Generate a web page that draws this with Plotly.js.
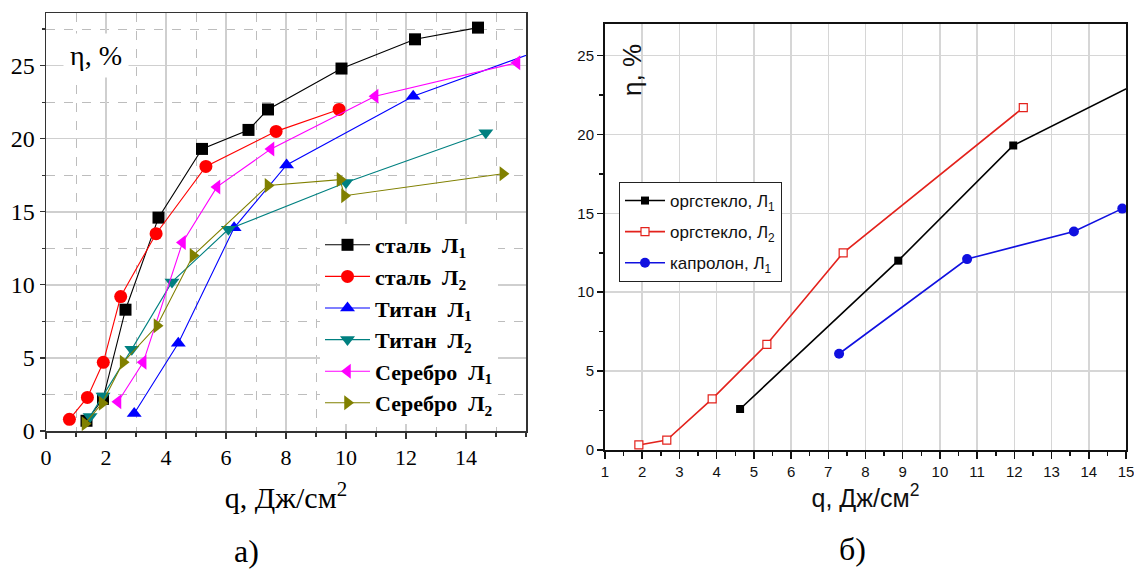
<!DOCTYPE html>
<html><head><meta charset="utf-8">
<script src="https://cdn.plot.ly/plotly-3.0.1.min.js"></script>
<style>html,body{margin:0;padding:0;background:#fff}#chart{width:1134px;height:575px}</style>
</head><body><div id="chart"></div>
<script>
// ---- Panel a) ----
const steelL1_x = [1.35, 1.9, 2.65, 3.75, 5.2, 6.75, 7.4, 9.85, 12.3, 14.4];
const steelL1_y = [0.7, 2.2, 8.3, 14.6, 19.3, 20.6, 22.0, 24.8, 26.8, 27.6];
const steelL2_x = [0.78, 1.38, 1.91, 2.49, 3.67, 5.33, 7.67, 9.77];
const steelL2_y = [0.8, 2.3, 4.7, 9.2, 13.5, 18.1, 20.5, 22.0];
const titanL1_x = [2.94, 4.41, 6.27, 8.02, 12.24, 16.4];
const titanL1_y = [1.2, 6.0, 13.9, 18.2, 22.9, 26.0];
const titanL2_x = [1.47, 1.9, 2.86, 4.2, 6.08, 10.0, 14.66];
const titanL2_y = [1.0, 2.4, 5.6, 10.2, 13.8, 17.0, 20.4];
const silverL1_x = [2.4, 3.24, 4.55, 5.7, 7.5, 10.97, 15.7];
const silverL1_y = [2.0, 4.7, 12.9, 16.7, 19.3, 22.9, 25.2];
const silverL2_x = [1.3, 1.87, 2.57, 3.7, 4.9, 7.4, 9.8, 9.95, 15.23];
const silverL2_y = [0.5, 1.9, 4.7, 7.2, 12.0, 16.8, 17.2, 16.1, 17.6];
const ticksA_x = [0, 2, 4, 6, 8, 10, 12, 14];

// ---- Panel б) ----
const plexL1_x = [4.63, 8.88, 11.97, 15.3];
const plexL1_y = [2.6, 12.0, 19.3, 23.25];
const plexL2_x = [1.91, 2.66, 3.88, 5.35, 7.4, 12.24];
const plexL2_y = [0.32, 0.63, 3.24, 6.7, 12.5, 21.7];
const capL1_x = [7.29, 10.73, 13.6, 14.9];
const capL1_y = [6.1, 12.1, 13.85, 15.3];

const namesA = ['сталь  Л<sub>1</sub>', 'сталь  Л<sub>2</sub>', 'Титан  Л<sub>1</sub>', 'Титан  Л<sub>2</sub>', 'Серебро  Л<sub>1</sub>', 'Серебро  Л<sub>2</sub>'];
const namesB = ['оргстекло, Л<sub>1</sub>', 'оргстекло, Л<sub>2</sub>', 'капролон, Л<sub>1</sub>'];

function trA(x, y, name, color, symbol, size, g) {
  return {x: x, y: y, name: name, type: 'scatter', mode: 'lines+markers', xaxis: 'x', yaxis: 'y',
    legend: 'legend', legendgroup: g,
    line: {color: color, width: 1.1}, marker: {color: color, symbol: symbol, size: size}};
}
function trB(x, y, name, color, symbol, size, g, open) {
  return {x: x, y: y, name: name, type: 'scatter', mode: 'lines+markers', xaxis: 'x2', yaxis: 'y2',
    legend: 'legend2', legendgroup: g,
    line: {color: color, width: 1.6},
    marker: open ? {color: 'rgba(255,255,255,1)', symbol: symbol, size: size, line: {color: color, width: 1.2}}
                 : {color: color, symbol: symbol, size: size}};
}

const data = [
  trA(steelL1_x, steelL1_y, namesA[0], '#000000', 'square', 12, 'a1'),
  trA(steelL2_x, steelL2_y, namesA[1], '#ff0000', 'circle', 13, 'a2'),
  trA(titanL1_x, titanL1_y, namesA[2], '#0000ff', 'triangle-up', 13, 'a3'),
  trA(titanL2_x, titanL2_y, namesA[3], '#008080', 'triangle-down', 13, 'a4'),
  trA(silverL1_x, silverL1_y, namesA[4], '#ff00ff', 'triangle-left', 13, 'a5'),
  trA(silverL2_x, silverL2_y, namesA[5], '#808000', 'triangle-right', 13, 'a6'),
  trB(plexL1_x, plexL1_y, namesB[0], '#000000', 'square', 8, 'b1', false),
  trB(plexL2_x, plexL2_y, namesB[1], '#e3221c', 'square', 8, 'b2', true),
  trB(capL1_x, capL1_y, namesB[2], '#1010e0', 'circle', 10, 'b3', false)
];

const serif = 'Liberation Serif, Times New Roman, serif';
const sans = 'Liberation Sans, Arial, sans-serif';

const layout = {
  width: 1134, height: 575, margin: {l: 0, r: 0, t: 0, b: 0},
  paper_bgcolor: '#fff', plot_bgcolor: '#fff', showlegend: true,
  xaxis: {domain: [46/1134, 526/1134], range: [0, 16], tickmode: 'array', tickvals: ticksA_x,
    showgrid: true, gridcolor: '#cfcfcf', gridwidth: 1.5, zeroline: false,
    showline: true, linecolor: '#333', linewidth: 1.5, mirror: true,
    ticks: 'outside', ticklen: 6, tickcolor: '#333', tickwidth: 1.2,
    minor: {dtick: 1, tick0: 0, showgrid: true, griddash: 'dash', gridcolor: '#bdbdbd', gridwidth: 1, ticks: 'outside', ticklen: 4, tickcolor: '#333'},
    tickfont: {family: serif, size: 22, color: '#000'},
    title: {text: 'q, Дж/см<sup>2</sup>', font: {family: serif, size: 30, color: '#000'}, standoff: 18},
    anchor: 'y'},
  yaxis: {domain: [1 - 431/575, 1 - 13/575], range: [0, 28.6], dtick: 5, tick0: 0,
    showgrid: true, gridcolor: '#cfcfcf', gridwidth: 1.5, zeroline: false,
    showline: true, linecolor: '#333', linewidth: 1.5, mirror: true,
    ticks: 'outside', ticklen: 5, tickcolor: '#333', tickwidth: 1.2,
    minor: {dtick: 2.5, showgrid: true, griddash: 'dash', gridcolor: '#bdbdbd', gridwidth: 1, ticks: 'outside', ticklen: 3, tickcolor: '#333'},
    tickfont: {family: serif, size: 24, color: '#000'},
    anchor: 'x'},
  xaxis2: {domain: [605/1134, 1126/1134], range: [1, 15], dtick: 1, tick0: 1,
    showgrid: true, gridcolor: '#d6d6d6', gridwidth: 1.5, zeroline: false,
    showline: true, linecolor: '#111', linewidth: 2, mirror: true,
    ticks: 'outside', ticklen: 7, tickcolor: '#111', tickwidth: 1.5, ticklabeloverflow: 'allow',
    minor: {dtick: 0.5, ticks: 'outside', ticklen: 4, tickcolor: '#111', showgrid: false},
    tickfont: {family: sans, size: 15, color: '#111'},
    title: {text: 'q, Дж/см<sup>2</sup>', font: {family: sans, size: 25, color: '#111'}, standoff: 10},
    anchor: 'y2'},
  yaxis2: {domain: [1 - 450/575, 1 - 24/575], range: [0, 27], dtick: 5, tick0: 0,
    showgrid: true, gridcolor: '#d6d6d6', gridwidth: 1.5, zeroline: false,
    showline: true, linecolor: '#111', linewidth: 2, mirror: true,
    ticks: 'outside', ticklen: 6, tickcolor: '#111', tickwidth: 1.5,
    minor: {dtick: 2.5, ticks: 'outside', ticklen: 4, tickcolor: '#111', showgrid: false},
    tickfont: {family: sans, size: 15, color: '#111'},
    anchor: 'x2'},
  legend: {x: 320/1134, xanchor: 'left', y: 1 - 224/575, yanchor: 'top',
    bgcolor: '#fff', borderwidth: 0, tracegroupgap: 0, itemwidth: 45,
    font: {family: serif, size: 22, color: '#000', weight: 'bold'}},
  legend2: {x: 619/1134, xanchor: 'left', y: 1 - 182/575, yanchor: 'top',
    bgcolor: '#fff', bordercolor: '#222', borderwidth: 1, tracegroupgap: 6, itemwidth: 40,
    font: {family: sans, size: 17, color: '#111'}},
  annotations: [
    {text: 'η, %', xref: 'paper', yref: 'paper', x: 96/1134, y: 1 - 55/575, xanchor: 'center', yanchor: 'middle',
     showarrow: false, bgcolor: '#fff', borderpad: 6, font: {family: serif, size: 28, color: '#000'}},
    {text: 'η, %', xref: 'paper', yref: 'paper', x: 632/1134, y: 1 - 70/575, xanchor: 'center', yanchor: 'middle',
     showarrow: false, textangle: -90, font: {family: sans, size: 26, color: '#111'}},
    {text: 'а)', xref: 'paper', yref: 'paper', x: 246/1134, y: 1 - 551/575, xanchor: 'center', yanchor: 'middle',
     showarrow: false, font: {family: serif, size: 32, color: '#000'}},
    {text: 'б)', xref: 'paper', yref: 'paper', x: 852/1134, y: 1 - 549/575, xanchor: 'center', yanchor: 'middle',
     showarrow: false, font: {family: serif, size: 32, color: '#000'}}
  ]
};

Plotly.newPlot('chart', data, layout, {displayModeBar: false, staticPlot: true});
</script></body></html>
